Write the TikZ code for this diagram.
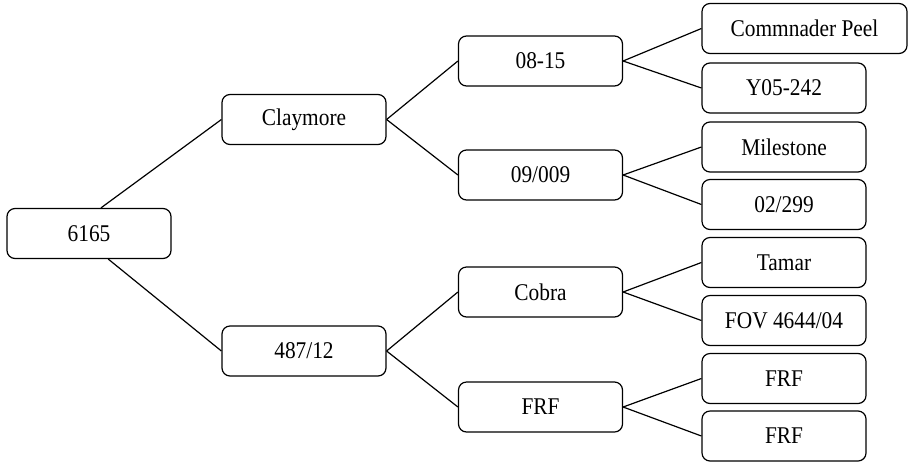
\documentclass[tikz,border=0pt]{standalone}
\usepackage{fontspec}
\setmainfont{Liberation Serif}[FakeStretch=0.89]
\usetikzlibrary{positioning}
\tikzset{box/.style={draw,rounded corners=4pt,line width=0.6pt,minimum width=82pt,minimum height=25pt,inner sep=2pt,font=\fontsize{12}{14}\selectfont}}
\tikzset{link/.style={line width=0.6pt}}

\begin{document}
\begin{tikzpicture}[x=0.5pt,y=-0.5pt]
\useasboundingbox (0,0) rectangle (908,461);
\node (root) [box] at (89,233.5) {6165};
\node (claymore) [box] at (304,119.5) {Claymore};
\node (reg) [box] at (304,351) {487/12};
\node (opa) [box] at (540.5,61) {08-15};
\node (opb) [box] at (540.5,175) {09/009};
\node (cobra) [box] at (540.5,292) {Cobra};
\node (frf) [box] at (540.5,407) {FRF};
\node (peel) [box,minimum width=102.5pt] at (804.5,28.5) {Commnader Peel};
\node (yzero) [box] at (784,88) {Y05-242};
\node (milestone) [box] at (784,147) {Milestone};
\node (two) [box] at (784,204.5) {02/299};
\node (tamar) [box] at (784,262.5) {Tamar};
\node (fov) [box] at (784,320.5) {FOV 4644/04};
\node (frfa) [box] at (784,378.5) {FRF};
\node (frfb) [box] at (784,436) {FRF};
\draw[link] (root.65) -- (claymore.west);
\draw[link] (root.-53) -- (reg.west);
\draw[link] (claymore.east) -- (opa.west);
\draw[link] (claymore.east) -- (opb.west);
\draw[link] (reg.east) -- (cobra.west);
\draw[link] (reg.east) -- (frf.west);
\draw[link] (opa.east) -- (peel.west);
\draw[link] (opa.east) -- (yzero.west);
\draw[link] (opb.east) -- (milestone.west);
\draw[link] (opb.east) -- (two.west);
\draw[link] (cobra.east) -- (tamar.west);
\draw[link] (cobra.east) -- (fov.west);
\draw[link] (frf.east) -- (frfa.west);
\draw[link] (frf.east) -- (frfb.west);
\end{tikzpicture}
\end{document}
